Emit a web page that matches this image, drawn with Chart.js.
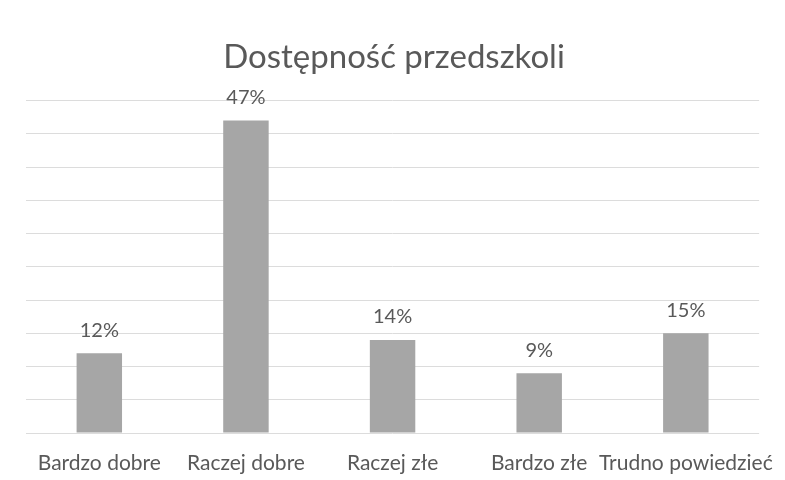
<!DOCTYPE html>
<html>
<head>
<meta charset="utf-8">
<script src="https://cdn.jsdelivr.net/npm/chart.js@4/dist/chart.umd.min.js"></script>
<style>
  html, body { margin: 0; padding: 0; background: #fff; }
  #wrap { width: 785px; height: 480px; }
</style>
</head>
<body>
<div id="wrap"><canvas id="chart" width="785" height="480"></canvas></div>
<script>
// dane wykresu
const categories = ['Bardzo dobre', 'Raczej dobre', 'Raczej złe', 'Bardzo złe', 'Trudno powiedzieć'];
const values = [12, 47, 14, 9, 15];
const yTicks = [0, 5, 10, 15, 20, 25, 30, 35, 40, 45, 50];

const textColor = '#595959';
const fontFamily = 'Lato, "Open Sans", sans-serif';

// etykiety nad słupkami
const barLabels = {
    id: 'barLabels',
    afterDatasetsDraw(chart) {
        const ctx = chart.ctx;
        const meta = chart.getDatasetMeta(0);
        ctx.save();
        ctx.fillStyle = textColor;
        ctx.font = '20px ' + fontFamily;
        ctx.textAlign = 'center';
        ctx.textBaseline = 'bottom';
        meta.data.forEach((bar, i) => {
            ctx.fillText(values[i] + '%', bar.x, bar.y - 13);
        });
        ctx.restore();
    }
};

new Chart(document.getElementById('chart'), {
    type: 'bar',
    data: {
        labels: categories,
        datasets: [{
            data: values,
            backgroundColor: '#a6a6a6',
            borderWidth: 0,
            barPercentage: 0.31,
            categoryPercentage: 1
        }]
    },
    options: {
        responsive: false,
        animation: false,
        layout: {
            padding: { left: 26, right: 23, top: 38, bottom: 0 }
        },
        plugins: {
            legend: { display: false },
            tooltip: { enabled: false },
            title: {
                display: true,
                text: 'Dostępność przedszkoli',
                color: textColor,
                font: { family: fontFamily, size: 33, weight: 'normal' },
                padding: { top: 0, bottom: 23 }
            }
        },
        scales: {
            x: {
                grid: { display: false },
                border: { display: false },
                ticks: {
                    color: textColor,
                    font: { family: fontFamily, size: 21 },
                    padding: 10,
                    maxRotation: 0,
                    autoSkip: false
                },
                afterFit(scale) {
                    scale.height = 47;
                }
            },
            y: {
                min: 0,
                max: 50,
                afterBuildTicks(scale) {
                    scale.ticks = yTicks.map(v => ({ value: v }));
                },
                grid: { color: '#dcdcdc', lineWidth: 1, drawTicks: false },
                border: { display: false },
                ticks: { display: false }
            }
        }
    },
    plugins: [barLabels]
});
</script>
</body>
</html>
